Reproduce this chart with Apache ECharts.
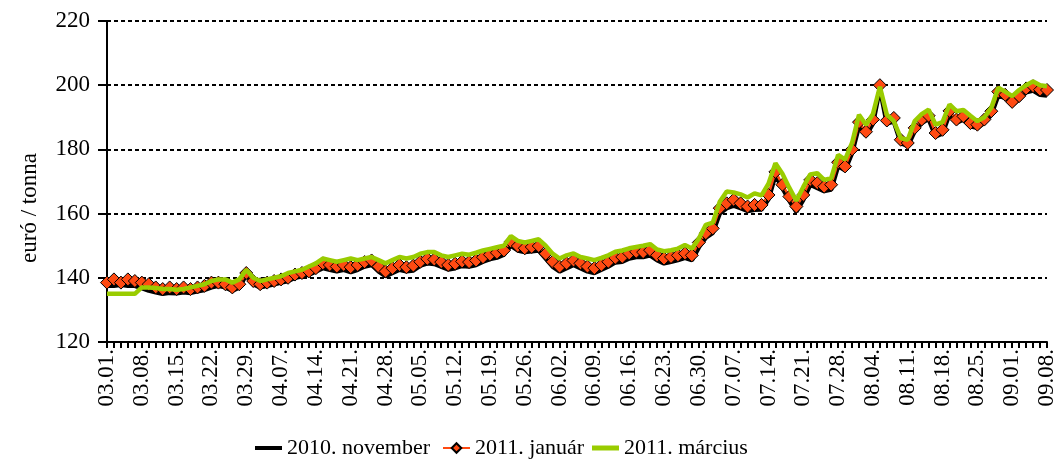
<!DOCTYPE html>
<html>
<head>
<meta charset="utf-8">
<script src="https://cdn.jsdelivr.net/npm/echarts@6/dist/echarts.min.js"></script>
<style>
html,body{margin:0;padding:0;background:#fff;}
#chart{width:1061px;height:461px;}
</style>
</head>
<body>
<div id="chart"></div>
<script>
// Categories: trading days (labels every 5th point)
var dates = [
"03.01.","03.02.","03.03.","03.04.","03.05.","03.08.","03.09.","03.10.","03.11.","03.12.",
"03.15.","03.16.","03.17.","03.18.","03.19.","03.22.","03.23.","03.24.","03.25.","03.26.",
"03.29.","03.30.","03.31.","04.01.","04.06.","04.07.","04.08.","04.09.","04.12.","04.13.",
"04.14.","04.15.","04.16.","04.19.","04.20.","04.21.","04.22.","04.23.","04.26.","04.27.",
"04.28.","04.29.","04.30.","05.03.","05.04.","05.05.","05.06.","05.07.","05.10.","05.11.",
"05.12.","05.13.","05.14.","05.17.","05.18.","05.19.","05.20.","05.21.","05.24.","05.25.",
"05.26.","05.27.","05.28.","05.31.","06.01.","06.02.","06.03.","06.04.","06.07.","06.08.",
"06.09.","06.10.","06.11.","06.14.","06.15.","06.16.","06.17.","06.18.","06.21.","06.22.",
"06.23.","06.24.","06.25.","06.28.","06.29.","06.30.","07.01.","07.02.","07.05.","07.06.",
"07.07.","07.08.","07.09.","07.12.","07.13.","07.14.","07.15.","07.16.","07.19.","07.20.",
"07.21.","07.22.","07.23.","07.26.","07.27.","07.28.","07.29.","07.30.","08.02.","08.03.",
"08.04.","08.05.","08.06.","08.09.","08.10.","08.11.","08.12.","08.13.","08.16.","08.17.",
"08.18.","08.19.","08.20.","08.23.","08.24.","08.25.","08.26.","08.27.","08.30.","08.31.",
"09.01.","09.02.","09.03.","09.06.","09.07.","09.08."
];

var seriesNames = ["2010. november", "2011. január", "2011. március"];
var yAxisTitle = "euró / tonna";

var nov2010 = [
137.5,137.5,137.8,137.5,137.5,136.8,136,135.5,135,135.3,
135.2,135.5,135.3,135.8,136.2,137,137.5,137,136,137,
141,138,137,137.5,138,138.5,139,140,140.5,141,
142,143,142.5,142,142.5,141.8,142.5,143.5,144,142,
140.5,141.5,142.5,142,142.3,143.8,144.5,144.3,143.5,142.6,
143,143.7,143.5,144,145,145.8,146.3,147.2,150,148.5,
148,148.3,148.5,146,143.5,142,143,144,143,142,
141.5,142.5,143.5,144.8,145,146,146.5,146.5,147,145.5,
144.5,145,145.5,146.2,145.5,149.5,152.5,154,160,161.7,
162.5,161.7,160.8,161.2,161.3,164.5,172,168,164,160.6,
164.3,169,168,167,167.5,174.8,173.5,178.8,187.3,184.3,
188,199,188,188.7,182,181,185.7,188.2,189.5,184,
185,191,188.3,189.3,187.2,186.7,188.3,190.8,196.8,196,
193.8,195.6,197.8,198.3,197,196.8
];

var jan2011 = [
138.5,139.5,138.5,139.5,139,138.5,138,137,136.5,137,
136.5,137,136.5,137,137.5,138.5,138.5,138,137,138,
141.5,139,138,138.5,139,139.5,140,141,141.5,142,
143,144.5,144,143.5,144,143.3,144,144.9,145.4,143.5,
142,143,144,143.3,143.8,145,145.9,145.7,144.9,144,
144.4,145.1,144.9,145.4,146.4,147.2,147.8,148.5,151.3,149.9,
149.2,149.6,149.9,147.5,145,143.5,144.5,145.4,144.5,143.5,
143,144,145,146.2,146.5,147.6,148.1,148,148.6,147,
146,146.5,147,147.6,147,151,153.9,155.4,161.7,163.2,
164.3,163.2,162.2,162.7,162.7,165.8,173,169,165.3,162.2,
165.8,170.5,169.5,168.4,169,176,174.7,180,188.5,185.5,
189.3,200,189,189.8,183,182,186.7,189.3,190.5,185.1,
186.1,192,189.3,190.3,188.2,187.7,189.3,191.9,198,197,
194.8,196.6,199,199.7,198.6,198.5
];

var mar2011 = [
135,135,135,135,135,137,137,136.8,136.5,136.5,
136.3,136.5,137,137.5,138,139,139.5,139.5,138.5,139.5,
142.5,140,139,139.5,140,140.5,141.5,142,142.5,143.5,
144.5,146,145.5,145,145.5,146,145.5,146,146.5,145.5,
144.5,145.5,146.5,146,146.5,147.5,148,148,147,146.5,
147,147.5,147.2,147.8,148.5,149,149.5,150,153,151.5,
151,151.5,152,150,147.5,146,147,147.6,146.5,146,
145.5,146.2,147,148.1,148.5,149.2,149.6,150,150.5,148.8,
148.3,148.6,149.1,150.2,149.1,152.2,156.5,157.2,163.7,166.9,
166.6,166,165,166.3,165.7,169.3,175.7,172.4,168,164,
168.3,172.2,172.6,170.5,171,178.3,176.8,182,190.8,187.7,
191,199.5,190.8,188.8,183.5,183,188.8,191,192.4,187.7,
188.5,194,191.9,192.3,190.5,188.8,190,193,199.2,198,
196.6,198.5,200,201.2,200,199.7
];

var yMin = 120, yMax = 220, yStep = 20;

var FONT = "Liberation Serif";
var ORANGE = '#FF4A12', GREEN = '#99CC00';
function legendFor(name, left, icon, h) {
  return {
    left: left, top: 432,
    itemWidth: 27, itemHeight: h, itemGap: 0,
    textStyle: {fontFamily: FONT, fontSize: 22, color: '#000'},
    data: [icon ? {name: name, icon: icon} : name]
  };
}
var chart = echarts.init(document.getElementById('chart'), null, {renderer: 'canvas'});
chart.setOption({
  backgroundColor: '#ffffff',
  animation: false,
  textStyle: {fontFamily: FONT, color: '#000'},
  grid: {left: 107, right: 14, top: 21, bottom: 119, containLabel: false},
  legend: [
    legendFor(seriesNames[0], 250, 'rect', 4),
    legendFor(seriesNames[1], 437, null, 12),
    legendFor(seriesNames[2], 587, 'rect', 5)
  ],
  graphic: [{
    type: 'text',
    x: 30, y: 208,
    rotation: Math.PI / 2,
    style: {
      text: yAxisTitle, fontFamily: FONT, fontSize: 23, fill: '#000',
      align: 'center', verticalAlign: 'middle'
    }
  }],
  xAxis: {
    type: 'category',
    data: dates,
    boundaryGap: false,
    axisLine: {onZero: false, lineStyle: {color: '#000', width: 2}},
    axisTick: {show: true, interval: 0, length: 6, lineStyle: {color: '#000', width: 2}},
    axisLabel: {interval: 4, rotate: 90, margin: 7, fontSize: 23, color: '#000', fontFamily: FONT},
    splitLine: {show: false}
  },
  yAxis: {
    type: 'value',
    min: yMin, max: yMax, interval: yStep,
    axisLine: {show: true, lineStyle: {color: '#000', width: 2}},
    axisTick: {show: true, inside: false, length: 9, lineStyle: {color: '#000', width: 2}},
    axisLabel: {margin: 17, fontSize: 23, color: '#000', fontFamily: FONT},
    splitLine: {show: true, lineStyle: {color: '#000', width: 2, type: [4, 3]}}
  },
  series: [
    {
      name: seriesNames[0], type: 'line', data: nov2010,
      symbol: 'none', z: 2,
      lineStyle: {color: '#000', width: 4.5},
      itemStyle: {color: '#000'}
    },
    {
      name: seriesNames[1], type: 'line', data: jan2011,
      symbol: 'diamond', symbolSize: 13, showAllSymbol: true, z: 3,
      lineStyle: {color: ORANGE, width: 2.5},
      itemStyle: {color: ORANGE, borderColor: '#000', borderWidth: 1}
    },
    {
      name: seriesNames[2], type: 'line', data: mar2011,
      symbol: 'none', z: 4,
      lineStyle: {color: GREEN, width: 4.5},
      itemStyle: {color: GREEN}
    }
  ]
});
</script>
</body>
</html>
